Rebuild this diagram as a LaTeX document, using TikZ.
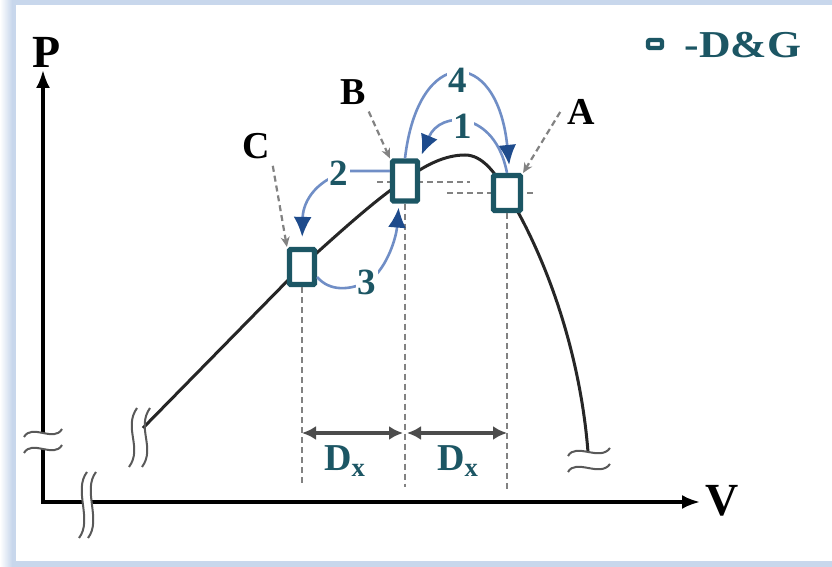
\documentclass[tikz,border=0pt]{standalone}
\usepackage{fontspec}
\setmainfont{Liberation Serif}
\usetikzlibrary{arrows.meta,positioning}
\definecolor{dgteal}{RGB}{28,86,100}
\definecolor{flowline}{RGB}{112,142,198}
\definecolor{flowtip}{RGB}{30,75,140}
\definecolor{framebl}{RGB}{200,215,236}
\definecolor{guidegray}{RGB}{130,130,130}

\begin{document}
\begin{tikzpicture}[
  x=0.5pt, y=-0.5pt,
  dgbox/.style={draw=dgteal, line width=2.6pt, fill=white, inner sep=0pt, rounded corners=0.5pt},
  pvaxis/.style={line width=1.6pt, line join=miter},
  pvcurve/.style={line width=1.5pt, black!85},
  guide/.style={draw=guidegray, line width=1.1pt, dash pattern=on 3pt off 2pt},
  pointer/.style={guide, -{Stealth[length=5pt,width=4.5pt]}},
  flow/.style={draw=flowline, line width=1.3pt, -{Latex[length=10pt,width=9pt,color=flowtip]}},
  dxspan/.style={draw=black!70, line width=1.6pt, {Latex[length=7pt,width=7pt]}-{Latex[length=7pt,width=7pt]}},
  brk/.style={draw=black!65, line width=1pt},
  steplbl/.style={font=\fontsize{18.5}{21}\selectfont\bfseries, text=dgteal, fill=white, inner sep=1pt},
  ptlbl/.style={font=\fontsize{19}{22}\selectfont\bfseries},
  axlbl/.style={font=\fontsize{23}{27}\selectfont\bfseries},
  dxlbl/.style={font=\fontsize{19}{22}\selectfont\bfseries, text=dgteal},
  legtxt/.style={font=\fontsize{19}{22}\selectfont\bfseries, text=dgteal, xscale=1.15},
]

% frame
\fill[framebl] (0,0) rectangle (832,567);
\shade[left color=white, right color=framebl] (0,0) rectangle (12,567);
\fill[white] (16,5) rectangle (832,561);

% axes
\coordinate (O) at (43,502);
\coordinate (Ptip) at (43,70);
\coordinate (Vtip) at (700,502);
\draw[pvaxis, {Latex[length=9pt,width=7pt]}-{Latex[length=9pt,width=7pt]}] (Ptip) -- (O) -- (Vtip);
\node[axlbl] (Plbl) at (47,52) {P};
\node[axlbl] (Vlbl) at (722,501) {V};

% axis breaks
\fill[white] (24,437) .. controls (32,423) and (54,443) .. (62,429) -- (62,445) .. controls (54,459) and (32,439) .. (24,453) -- cycle;
\draw[brk] (24,437) .. controls (32,423) and (54,443) .. (62,429);
\draw[brk] (24,453) .. controls (32,439) and (54,459) .. (62,445);
\fill[white] (87,472) .. controls (73,490) and (93,520) .. (79,538) -- (88,538) .. controls (102,520) and (82,490) .. (96,472) -- cycle;
\draw[brk] (87,472) .. controls (73,490) and (93,520) .. (79,538);
\draw[brk] (96,472) .. controls (82,490) and (102,520) .. (88,538);

% P-V curve
\draw[pvcurve] (143,428) -- (300,268) .. controls (340,232) and (375,200) .. (405,180)
  .. controls (425,165) and (445,155) .. (465,155) .. controls (482,155) and (495,172) .. (507,193)
  .. controls (545,255) and (580,350) .. (588,452);
\draw[brk] (137,408) .. controls (123,428) and (143,448) .. (129,467);
\draw[brk] (150,408) .. controls (136,428) and (156,448) .. (142,467);
\draw[brk] (568,456) .. controls (576,442) and (600,462) .. (610,448);
\draw[brk] (568,472) .. controls (576,458) and (600,478) .. (610,464);

% horizontal guides
\draw[guide] (377,182) -- (470,182);
\draw[guide] (447,193) -- (535,193);

% D&G points
\node[dgbox, minimum width=12.5pt, minimum height=17.5pt] (C) at (302,267) {};
\node[dgbox, minimum width=12.5pt, minimum height=20pt] (B) at (405,181) {};
\node[dgbox, minimum width=13.5pt, minimum height=17.5pt] (A) at (507,193) {};

% vertical guides
\coordinate (Cfoot) at (302,485);
\coordinate (Bfoot) at (405,487);
\coordinate (Afoot) at (507,490);
\draw[guide] (C.south) -- (Cfoot);
\draw[guide] (B.south) -- (Bfoot);
\draw[guide] (A.south) -- (Afoot);

% step widths
\coordinate (dxrow) at (0,433);
\draw[dxspan] (C.south |- dxrow) -- ([xshift=-1pt]B.south |- dxrow);
\draw[dxspan] ([xshift=1pt]B.south |- dxrow) -- (A.south |- dxrow);
\node[dxlbl] (dx1) at (345,461) {D\textsubscript{x}};
\node[dxlbl] (dx2) at (458,461) {D\textsubscript{x}};

% point labels
\node[ptlbl] (Blbl) at (353,92) {B};
\node[ptlbl] (Albl) at (581,112) {A};
\node[ptlbl] (Clbl) at (256,146) {C};
\draw[pointer] ([xshift=-2pt]Blbl.south east) -- (B.north west);
\draw[pointer] (Albl.west) -- (A.north east);
\draw[pointer] ([xshift=-2pt]Clbl.south east) -- (C.north west);

% search steps
\draw[flow, shorten >=4pt] (B.north) .. controls (418,45) and (497,45) .. ([xshift=1.5pt]A.north);
\draw[flow, shorten >=2pt] (A.north) .. controls (495,110) and (440,110) .. (B.north east);
\draw[flow, shorten >=5pt] ([yshift=5pt]B.west) -- (350,171) .. controls (318,178) and (303,200) .. (C.north);
\draw[flow, shorten >=2pt] ([yshift=-5pt]C.east) .. controls (330,292) and (350,290) .. (367,282)
  .. controls (385,272) and (396,240) .. ([xshift=-3pt]B.south);
\node[steplbl] (s4) at (458,80) {4};
\node[steplbl] (s1) at (463,126) {1};
\node[steplbl] (s2) at (339,173) {2};
\node[steplbl] (s3) at (367,282) {3};

% legend
\node[dgbox, minimum width=7pt, minimum height=4pt, line width=2.2pt, rounded corners=1pt] (leg) at (655,44) {};
\node[legtxt] (legtext) at (743,45) {-D\&G};

\end{tikzpicture}
\end{document}
